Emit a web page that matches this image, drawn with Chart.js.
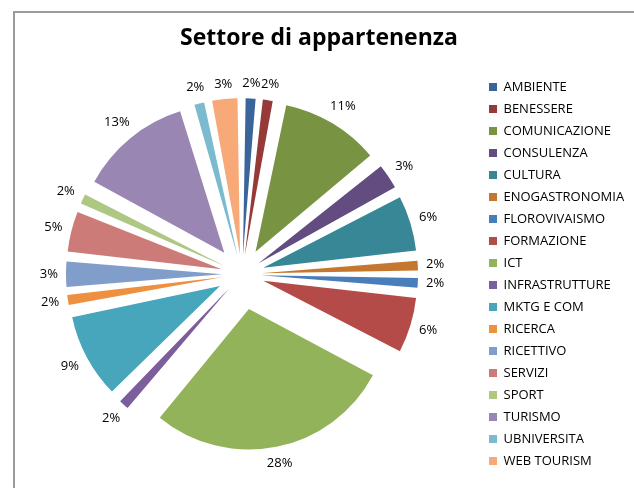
<!DOCTYPE html>
<html lang="it">
<head>
  <meta charset="UTF-8" />
  <title>Settore di appartenenza</title>
  <script src="https://cdn.jsdelivr.net/npm/chart.js"></script>
  <style>
    body {
      margin: 0;
      background: #fff;
      overflow: hidden;
    }
    .cornice {
      position: absolute;
      left: 13px;
      top: 11px;
      width: 660px;
      height: 520px;
      border: 2px solid #9b9b9b;
    }
    #graficoSettori {
      position: absolute;
      left: 0;
      top: 0;
    }
  </style>
</head>
<body>

<div class="cornice"></div>
<canvas id="graficoSettori" width="634" height="488"></canvas>

<script>
  // Settori e numero di aziende (totale 64)
  const settori = ['AMBIENTE', 'BENESSERE', 'COMUNICAZIONE', 'CONSULENZA', 'CULTURA', 'ENOGASTRONOMIA',
    'FLOROVIVAISMO', 'FORMAZIONE', 'ICT', 'INFRASTRUTTURE', 'MKTG E COM', 'RICERCA', 'RICETTIVO',
    'SERVIZI', 'SPORT', 'TURISMO', 'UBNIVERSITA', 'WEB TOURISM'];
  const aziende = [1, 1, 7, 2, 4, 1, 1, 4, 18, 1, 6, 1, 2, 3, 1, 8, 1, 2];
  const colori = ['#3A659A', '#963A38', '#789442', '#634C80', '#378797', '#C6772F',
    '#4A7EBB', '#B54B48', '#93B35A', '#7D5E9D', '#47A6BB', '#EE9040',
    '#819DCA', '#CC7B79', '#AEC783', '#9A86B3', '#7ABBCF', '#F7A977'];

  const totale = aziende.reduce((a, b) => a + b, 0);

  // distanza di esplosione voluta (px) uguale per tutte le fette
  const esplosione = 36;
  // Chart.js sposta la fetta di offset/4 * (2 - sin(ampiezza)): lo compensiamo
  const offsetFetta = (c) => {
    const ampiezza = 2 * Math.PI * aziende[c.dataIndex] / totale;
    return esplosione * 4 / (2 - Math.sin(Math.min(Math.PI, ampiezza)));
  };

  Chart.defaults.font.family = "'Open Sans', sans-serif";
  Chart.defaults.color = '#000';

  // Percentuali fuori dalle fette
  const etichettePercentuali = {
    id: 'etichettePercentuali',
    afterDatasetsDraw(chart) {
      const ctx = chart.ctx;
      const meta = chart.getDatasetMeta(0);
      ctx.save();
      ctx.font = "13px 'Open Sans', sans-serif";
      ctx.fillStyle = '#000';
      ctx.textAlign = 'center';
      ctx.textBaseline = 'middle';
      meta.data.forEach((arc, i) => {
        const { x, y, startAngle, endAngle, outerRadius } =
          arc.getProps(['x', 'y', 'startAngle', 'endAngle', 'outerRadius']);
        const testo = Math.round(aziende[i] / totale * 100) + '%';
        const medio = (startAngle + endAngle) / 2;
        const cos = Math.cos(medio);
        const sin = Math.sin(medio);
        const w = ctx.measureText(testo).width;
        const r = outerRadius + esplosione + 8 + Math.abs(cos) * w / 2 + Math.abs(sin) * 6.5;
        ctx.fillText(testo, x + cos * r, y + sin * r);
      });
      ctx.restore();
    }
  };

  new Chart(document.getElementById('graficoSettori'), {
    type: 'pie',
    data: {
      labels: settori,
      datasets: [{
        data: aziende,
        backgroundColor: colori,
        borderWidth: 0,
        offset: offsetFetta,
        radius: 140
      }]
    },
    options: {
      responsive: false,
      animation: false,
      layout: { padding: { left: 4, right: 0, top: 0, bottom: 11 } },
      plugins: {
        title: {
          display: true,
          text: 'Settore di appartenenza',
          color: '#000',
          font: { size: 23, weight: 'bold' },
          padding: { top: 24.7, bottom: 19.2 }
        },
        legend: {
          position: 'right',
          align: 'start',
          fullSize: false,
          maxWidth: 154,
          labels: {
            boxWidth: 8,
            boxHeight: 8,
            padding: 9,
            color: '#000',
            font: { size: 13 }
          }
        },
        tooltip: { enabled: false }
      }
    },
    plugins: [etichettePercentuali]
  });
</script>

</body>
</html>
